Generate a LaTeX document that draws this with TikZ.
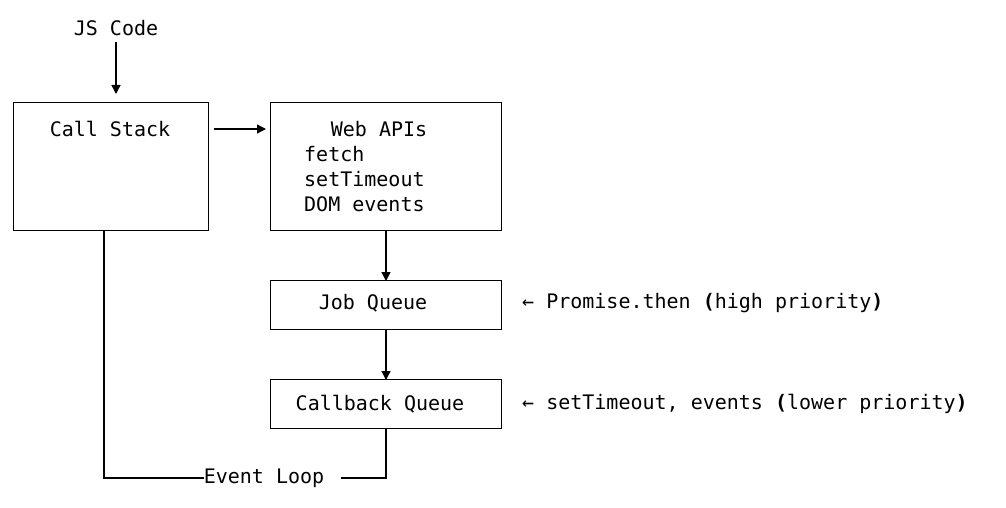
\documentclass[tikz,border=0pt]{standalone}
\usepackage{fontspec}
\setmonofont{DejaVu Sans Mono}
\begin{document}
\begin{tikzpicture}[x=1pt,y=-1pt,
  box/.style={draw,line width=1.3pt},
  t/.style={font=\ttfamily\fontsize{20}{22}\selectfont,inner sep=0pt},
  ln/.style={line width=1.3pt},
  ar/.style={ln,-{Triangle[length=9pt,width=9pt]}}]
\useasboundingbox (0,0) rectangle (1006,508);
\usetikzlibrary{arrows.meta}
\node[t] (js) at (116,28) {JS Code};
\node[box,minimum width=195pt,minimum height=128pt,anchor=north west,inner sep=0pt] (cs) at (13,102) {};
\node[t] at (110,129) {Call Stack};
\node[box,minimum width=231pt,minimum height=128pt,anchor=north west,inner sep=0pt] (web) at (270,102) {};
\node[t] at (379,129) {Web APIs};
\node[t,anchor=west] at (304,154) {fetch};
\node[t,anchor=west] at (304,179) {setTimeout};
\node[t,anchor=west] at (304,204) {DOM events};
\node[box,minimum width=231pt,minimum height=49pt,anchor=north west,inner sep=0pt] (job) at (270,280) {};
\node[t] at (373,303) {Job Queue};
\node[box,minimum width=231pt,minimum height=49pt,anchor=north west,inner sep=0pt] (cb) at (270,379) {};
\node[t] at (380,404) {Callback Queue};
\node[t,anchor=west] (n1) at (522,303) {← Promise.then \textbf{(}high priority\textbf{)}};
\node[t,anchor=west] (n2) at (522,404) {← setTimeout, events \textbf{(}lower priority\textbf{)}};
\node[t] (el) at (264,478) {Event Loop};
\coordinate (jsb) at (116,42);
\coordinate (cstop) at (116,94);
\draw[ar] (jsb) -- (cstop);
\coordinate (a1) at (214,129); \coordinate (a2) at (266,129);
\draw[ar] (a1) -- (a2);
\draw[ar] (386,230) -- (386,281);
\draw[ar] (386,329) -- (386,380);
\coordinate (c1) at (104,230); \coordinate (c2) at (104,478);
\draw[ln] (c1) -- (c2) -- (el.west) ++(-10,0) -- (188,478);
\draw[ln] (341,478) -- (386,478) -- (386,428);
\end{tikzpicture}
\end{document}
